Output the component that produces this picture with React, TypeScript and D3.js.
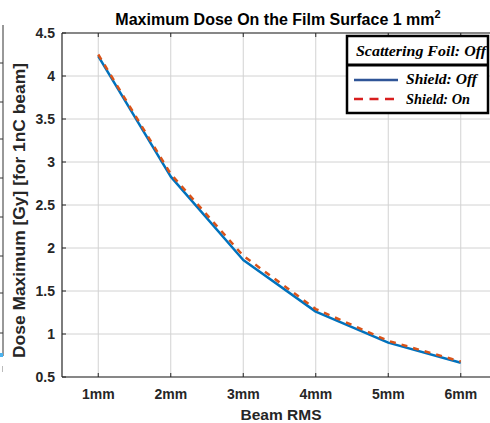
import React from "react";
import * as d3 from "d3";

// Beam RMS sizes (mm) and their axis labels
const beamRms = [1, 2, 3, 4, 5, 6];
const xTickLabels = ["1mm", "2mm", "3mm", "4mm", "5mm", "6mm"];
const yTicks = [0.5, 1, 1.5, 2, 2.5, 3, 3.5, 4, 4.5];
const yTickLabels = ["0.5", "1", "1.5", "2", "2.5", "3", "3.5", "4", "4.5"];

// Maximum dose [Gy] per 1 nC beam
const doseShieldOff = [4.23, 2.83, 1.86, 1.26, 0.9, 0.665];
const doseShieldOn = [4.25, 2.86, 1.91, 1.29, 0.92, 0.68];

// Neighbouring panel's axis ticks (partly visible at the left edge)
const sidePanelTicks = [63, 102, 139, 178, 217, 256, 293, 333];

const W = 490;
const H = 423;
const left = 62;
const right = 497;
const top = 33;
const bottom = 377;

export default function App() {
  const x = d3.scaleLinear().domain([0.5, 6.5]).range([left, right]);
  const y = d3.scaleLinear().domain([0.5, 4.5]).range([bottom, top]);

  const line = d3
    .line<number>()
    .x((_, i) => x(beamRms[i]))
    .y((d) => y(d));

  const axisColor = "#262626";
  const gridColor = "#d2d2d2";
  const sans = "'Liberation Sans', Arial, sans-serif";
  const serif = "'Liberation Serif', 'Times New Roman', serif";

  return (
    <svg
      width={W}
      height={H}
      viewBox={`0 0 ${W} ${H}`}
      style={{ position: "absolute", left: 0, top: 0, background: "#fff" }}
    >
      <rect x={0} y={0} width={W} height={H} fill="#fff" />

      {/* edge of the neighbouring panel */}
      <line x1={3} x2={3} y1={25} y2={356} stroke="#333" strokeWidth={1} />
      {sidePanelTicks.map((t) => (
        <line key={t} x1={0} x2={3} y1={t} y2={t} stroke="#333" strokeWidth={1} />
      ))}
      <rect x={0} y={353} width={3} height={4} fill="#4cb4f0" />
      <rect x={2} y={366} width={1} height={6} fill="#bbb" />

      {/* grid */}
      <g>
        {beamRms.map((v) => (
          <line key={"gx" + v} x1={x(v)} x2={x(v)} y1={top} y2={bottom} stroke={gridColor} strokeWidth={1} />
        ))}
        {yTicks.map((v) => (
          <line key={"gy" + v} x1={left} x2={W} y1={y(v)} y2={y(v)} stroke={gridColor} strokeWidth={1} />
        ))}
      </g>

      {/* axes box */}
      <line x1={left} x2={W} y1={bottom} y2={bottom} stroke={axisColor} strokeWidth={1.2} />
      <line x1={left} x2={W} y1={top} y2={top} stroke={axisColor} strokeWidth={1.2} />
      <line x1={left} x2={left} y1={top} y2={bottom} stroke={axisColor} strokeWidth={1.2} />

      {/* ticks */}
      {beamRms.map((v) => (
        <g key={"tx" + v}>
          <line x1={x(v)} x2={x(v)} y1={bottom} y2={bottom - 4} stroke={axisColor} />
          <line x1={x(v)} x2={x(v)} y1={top} y2={top + 4} stroke={axisColor} />
        </g>
      ))}
      {yTicks.map((v) => (
        <line key={"ty" + v} x1={left} x2={left + 4} y1={y(v)} y2={y(v)} stroke={axisColor} />
      ))}

      {/* tick labels */}
      {beamRms.map((v, i) => (
        <text
          key={"lx" + v}
          x={x(v)}
          y={399}
          textAnchor="middle"
          fontFamily={sans}
          fontWeight="bold"
          fontSize={14}
          fill={axisColor}
        >
          {xTickLabels[i]}
        </text>
      ))}
      {yTicks.map((v, i) => (
        <text
          key={"ly" + v}
          x={55}
          y={y(v) + 5}
          textAnchor="end"
          fontFamily={sans}
          fontWeight="bold"
          fontSize={14}
          fill={axisColor}
        >
          {yTickLabels[i]}
        </text>
      ))}

      {/* data lines */}
      <path
        d={line(doseShieldOff) || ""}
        fill="none"
        stroke="#0072BD"
        strokeWidth={2.5}
        strokeLinejoin="round"
      />
      <path
        d={line(doseShieldOn) || ""}
        fill="none"
        stroke="#D95319"
        strokeWidth={2.5}
        strokeDasharray="6 6"
      />

      {/* title */}
      <text
        x={278}
        y={25}
        textAnchor="middle"
        fontFamily={sans}
        fontWeight="bold"
        fontSize={16}
        fill="#000"
      >
        Maximum Dose On the Film Surface 1 mm
        <tspan fontSize={11} dy={-7}>
          2
        </tspan>
      </text>

      {/* axis labels */}
      <text
        x={281}
        y={420}
        textAnchor="middle"
        fontFamily={sans}
        fontWeight="bold"
        fontSize={15.5}
        fill={axisColor}
      >
        Beam RMS
      </text>
      <text
        transform={`translate(25, 210.5) rotate(-90)`}
        textAnchor="middle"
        fontFamily={sans}
        fontWeight="bold"
        fontSize={16.5}
        textLength={295}
        lengthAdjust="spacingAndGlyphs"
        fill={axisColor}
      >
        Dose Maximum [Gy] [for 1nC beam]
      </text>

      {/* legend */}
      <g>
        <rect x={347} y={36} width={141} height={77} fill="#fff" stroke="#000" strokeWidth={2.5} />
        <line x1={347} x2={488} y1={65} y2={65} stroke="#000" strokeWidth={3} />
        <text
          x={356}
          y={56}
          fontFamily={serif}
          fontStyle="italic"
          fontWeight="bold"
          fontSize={15}
          textLength={130}
          lengthAdjust="spacingAndGlyphs"
          fill="#000"
        >
          Scattering Foil: Off
        </text>
        <line x1={354} x2={398} y1={80} y2={80} stroke="#2F5597" strokeWidth={2.5} />
        <text
          x={406}
          y={84}
          fontFamily={serif}
          fontStyle="italic"
          fontWeight="bold"
          fontSize={15}
          textLength={71}
          lengthAdjust="spacingAndGlyphs"
          fill="#000"
        >
          Shield: Off
        </text>
        <line
          x1={354}
          x2={400}
          y1={99}
          y2={99}
          stroke="#D81E1E"
          strokeWidth={2.5}
          strokeDasharray="9 6.5"
        />
        <text
          x={406}
          y={104}
          fontFamily={serif}
          fontStyle="italic"
          fontWeight="bold"
          fontSize={15}
          textLength={64}
          lengthAdjust="spacingAndGlyphs"
          fill="#000"
        >
          Shield: On
        </text>
      </g>
    </svg>
  );
}
